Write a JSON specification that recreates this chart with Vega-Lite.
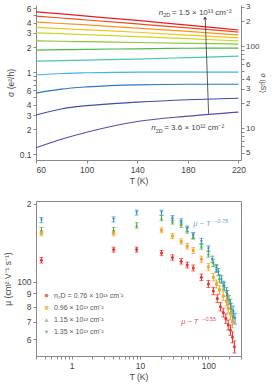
{
  "$schema": "https://vega.github.io/schema/vega-lite/v6.json",
  "padding": {"left": 3, "top": 2, "right": 0, "bottom": 0},
  "spacing": 14,
  "resolve": {"scale": {"color": "independent", "shape": "independent"}, "legend": {"color": "independent", "shape": "independent"}},
  "config": {
    "font": "Liberation Sans",
    "view": {"stroke": null},
    "axis": {"labelFontSize": 8.5, "titleFontSize": 8.5, "labelColor": "#444", "titleColor": "#444", "domainColor": "#888", "tickColor": "#888", "grid": false, "tickSize": 3, "titleFontWeight": "normal", "labelPadding": 2}
  },
  "datasets": {
    "sigma": [
      {"line": 1, "T": 60, "sigma": 5.4}, {"line": 1, "T": 80, "sigma": 5.1}, {"line": 1, "T": 100, "sigma": 4.8}, {"line": 1, "T": 140, "sigma": 4.25}, {"line": 1, "T": 180, "sigma": 3.72}, {"line": 1, "T": 220, "sigma": 3.25},
      {"line": 2, "T": 60, "sigma": 4.8}, {"line": 2, "T": 80, "sigma": 4.55}, {"line": 2, "T": 100, "sigma": 4.3}, {"line": 2, "T": 140, "sigma": 3.85}, {"line": 2, "T": 180, "sigma": 3.45}, {"line": 2, "T": 220, "sigma": 3.07},
      {"line": 3, "T": 60, "sigma": 4.07}, {"line": 3, "T": 80, "sigma": 3.9}, {"line": 3, "T": 100, "sigma": 3.75}, {"line": 3, "T": 140, "sigma": 3.42}, {"line": 3, "T": 180, "sigma": 3.12}, {"line": 3, "T": 220, "sigma": 2.83},
      {"line": 4, "T": 60, "sigma": 3.5}, {"line": 4, "T": 80, "sigma": 3.38}, {"line": 4, "T": 100, "sigma": 3.27}, {"line": 4, "T": 140, "sigma": 3.05}, {"line": 4, "T": 180, "sigma": 2.82}, {"line": 4, "T": 220, "sigma": 2.6},
      {"line": 5, "T": 60, "sigma": 3.0}, {"line": 5, "T": 80, "sigma": 2.93}, {"line": 5, "T": 100, "sigma": 2.85}, {"line": 5, "T": 140, "sigma": 2.7}, {"line": 5, "T": 180, "sigma": 2.55}, {"line": 5, "T": 220, "sigma": 2.39},
      {"line": 6, "T": 60, "sigma": 2.39}, {"line": 6, "T": 80, "sigma": 2.37}, {"line": 6, "T": 100, "sigma": 2.34}, {"line": 6, "T": 140, "sigma": 2.29}, {"line": 6, "T": 180, "sigma": 2.24}, {"line": 6, "T": 220, "sigma": 2.19},
      {"line": 7, "T": 60, "sigma": 1.85}, {"line": 7, "T": 80, "sigma": 1.87}, {"line": 7, "T": 100, "sigma": 1.89}, {"line": 7, "T": 140, "sigma": 1.92}, {"line": 7, "T": 180, "sigma": 1.95}, {"line": 7, "T": 220, "sigma": 1.96},
      {"line": 8, "T": 60, "sigma": 1.36}, {"line": 8, "T": 80, "sigma": 1.38}, {"line": 8, "T": 100, "sigma": 1.4}, {"line": 8, "T": 140, "sigma": 1.44}, {"line": 8, "T": 180, "sigma": 1.5}, {"line": 8, "T": 220, "sigma": 1.56},
      {"line": 9, "T": 60, "sigma": 0.92}, {"line": 9, "T": 80, "sigma": 0.96}, {"line": 9, "T": 100, "sigma": 0.98}, {"line": 9, "T": 140, "sigma": 1.0}, {"line": 9, "T": 180, "sigma": 1.0}, {"line": 9, "T": 220, "sigma": 1.0},
      {"line": 10, "T": 60, "sigma": 0.555}, {"line": 10, "T": 80, "sigma": 0.62}, {"line": 10, "T": 100, "sigma": 0.66}, {"line": 10, "T": 140, "sigma": 0.7}, {"line": 10, "T": 180, "sigma": 0.71}, {"line": 10, "T": 220, "sigma": 0.71},
      {"line": 11, "T": 60, "sigma": 0.3}, {"line": 11, "T": 80, "sigma": 0.355}, {"line": 11, "T": 100, "sigma": 0.39}, {"line": 11, "T": 140, "sigma": 0.43}, {"line": 11, "T": 180, "sigma": 0.46}, {"line": 11, "T": 220, "sigma": 0.48},
      {"line": 12, "T": 60, "sigma": 0.12}, {"line": 12, "T": 80, "sigma": 0.152}, {"line": 12, "T": 100, "sigma": 0.185}, {"line": 12, "T": 140, "sigma": 0.25}, {"line": 12, "T": 180, "sigma": 0.29}, {"line": 12, "T": 220, "sigma": 0.325}
    ],
    "topnotes": [
      {"T": 157, "s": 5.25, "rest": "= 1.5 × 10¹³ cm⁻²"},
      {"T": 151, "s": 0.207, "rest": "= 3.6 × 10¹² cm⁻²"}
    ],
    "mob": [
      {"n": "n₂D = 0.76 × 10¹³ cm⁻²", "T": 0.36, "mu": 121, "err": 3},
      {"n": "n₂D = 0.76 × 10¹³ cm⁻²", "T": 4.1, "mu": 133, "err": 3},
      {"n": "n₂D = 0.76 × 10¹³ cm⁻²", "T": 8.9, "mu": 133, "err": 3},
      {"n": "n₂D = 0.76 × 10¹³ cm⁻²", "T": 20.6, "mu": 129, "err": 3},
      {"n": "n₂D = 0.76 × 10¹³ cm⁻²", "T": 29.8, "mu": 124, "err": 3},
      {"n": "n₂D = 0.76 × 10¹³ cm⁻²", "T": 40, "mu": 120, "err": 3},
      {"n": "n₂D = 0.76 × 10¹³ cm⁻²", "T": 49, "mu": 116, "err": 3},
      {"n": "n₂D = 0.76 × 10¹³ cm⁻²", "T": 60, "mu": 113, "err": 3},
      {"n": "n₂D = 0.76 × 10¹³ cm⁻²", "T": 79, "mu": 104, "err": 3},
      {"n": "n₂D = 0.76 × 10¹³ cm⁻²", "T": 100, "mu": 98, "err": 3},
      {"n": "n₂D = 0.76 × 10¹³ cm⁻²", "T": 118, "mu": 92, "err": 3},
      {"n": "n₂D = 0.76 × 10¹³ cm⁻²", "T": 135, "mu": 86, "err": 3},
      {"n": "n₂D = 0.76 × 10¹³ cm⁻²", "T": 150, "mu": 80, "err": 3},
      {"n": "n₂D = 0.76 × 10¹³ cm⁻²", "T": 165, "mu": 76, "err": 3},
      {"n": "n₂D = 0.76 × 10¹³ cm⁻²", "T": 180, "mu": 72, "err": 3},
      {"n": "n₂D = 0.76 × 10¹³ cm⁻²", "T": 195, "mu": 68, "err": 3},
      {"n": "n₂D = 0.76 × 10¹³ cm⁻²", "T": 210, "mu": 65, "err": 3},
      {"n": "n₂D = 0.76 × 10¹³ cm⁻²", "T": 225, "mu": 61, "err": 3},
      {"n": "n₂D = 0.76 × 10¹³ cm⁻²", "T": 240, "mu": 56, "err": 3},
      {"n": "0.96 × 10¹³ cm⁻²", "T": 0.36, "mu": 154, "err": 3.5},
      {"n": "0.96 × 10¹³ cm⁻²", "T": 4.1, "mu": 154, "err": 3.5},
      {"n": "0.96 × 10¹³ cm⁻²", "T": 20.6, "mu": 158, "err": 3.5},
      {"n": "0.96 × 10¹³ cm⁻²", "T": 29.8, "mu": 150, "err": 3.5},
      {"n": "0.96 × 10¹³ cm⁻²", "T": 40, "mu": 143, "err": 3.5},
      {"n": "0.96 × 10¹³ cm⁻²", "T": 49, "mu": 137, "err": 3.5},
      {"n": "0.96 × 10¹³ cm⁻²", "T": 60, "mu": 132, "err": 3.5},
      {"n": "0.96 × 10¹³ cm⁻²", "T": 79, "mu": 122, "err": 3.5},
      {"n": "0.96 × 10¹³ cm⁻²", "T": 100, "mu": 114, "err": 3.5},
      {"n": "0.96 × 10¹³ cm⁻²", "T": 118, "mu": 104, "err": 3.5},
      {"n": "0.96 × 10¹³ cm⁻²", "T": 131, "mu": 98, "err": 3.5},
      {"n": "0.96 × 10¹³ cm⁻²", "T": 145, "mu": 93, "err": 3.5},
      {"n": "0.96 × 10¹³ cm⁻²", "T": 165, "mu": 88, "err": 3.5},
      {"n": "0.96 × 10¹³ cm⁻²", "T": 184, "mu": 84, "err": 3.5},
      {"n": "0.96 × 10¹³ cm⁻²", "T": 195, "mu": 79, "err": 3.5},
      {"n": "0.96 × 10¹³ cm⁻²", "T": 210, "mu": 75, "err": 3.5},
      {"n": "0.96 × 10¹³ cm⁻²", "T": 225, "mu": 70, "err": 3.5},
      {"n": "1.15 × 10¹³ cm⁻²", "T": 0.36, "mu": 158, "err": 4},
      {"n": "1.15 × 10¹³ cm⁻²", "T": 4.1, "mu": 158, "err": 4},
      {"n": "1.15 × 10¹³ cm⁻²", "T": 8.9, "mu": 165, "err": 4},
      {"n": "1.15 × 10¹³ cm⁻²", "T": 20.6, "mu": 176, "err": 4},
      {"n": "1.15 × 10¹³ cm⁻²", "T": 29.8, "mu": 171, "err": 4},
      {"n": "1.15 × 10¹³ cm⁻²", "T": 40, "mu": 166, "err": 4},
      {"n": "1.15 × 10¹³ cm⁻²", "T": 49, "mu": 158, "err": 4},
      {"n": "1.15 × 10¹³ cm⁻²", "T": 60, "mu": 150, "err": 4},
      {"n": "1.15 × 10¹³ cm⁻²", "T": 79, "mu": 137, "err": 3.5},
      {"n": "1.15 × 10¹³ cm⁻²", "T": 100, "mu": 128, "err": 3.5},
      {"n": "1.15 × 10¹³ cm⁻²", "T": 118, "mu": 118, "err": 3.5},
      {"n": "1.15 × 10¹³ cm⁻²", "T": 131, "mu": 112, "err": 3.5},
      {"n": "1.15 × 10¹³ cm⁻²", "T": 145, "mu": 103, "err": 3.5},
      {"n": "1.15 × 10¹³ cm⁻²", "T": 165, "mu": 97, "err": 3.5},
      {"n": "1.15 × 10¹³ cm⁻²", "T": 184, "mu": 91.5, "err": 3.5},
      {"n": "1.15 × 10¹³ cm⁻²", "T": 200, "mu": 85, "err": 3.5},
      {"n": "1.15 × 10¹³ cm⁻²", "T": 215, "mu": 79, "err": 3.5},
      {"n": "1.15 × 10¹³ cm⁻²", "T": 230, "mu": 73, "err": 3.5},
      {"n": "1.35 × 10¹³ cm⁻²", "T": 0.36, "mu": 173, "err": 4},
      {"n": "1.35 × 10¹³ cm⁻²", "T": 4.1, "mu": 174, "err": 4},
      {"n": "1.35 × 10¹³ cm⁻²", "T": 8.9, "mu": 185, "err": 4},
      {"n": "1.35 × 10¹³ cm⁻²", "T": 20.6, "mu": 185, "err": 4},
      {"n": "1.35 × 10¹³ cm⁻²", "T": 29.8, "mu": 176, "err": 4},
      {"n": "1.35 × 10¹³ cm⁻²", "T": 40, "mu": 171, "err": 4},
      {"n": "1.35 × 10¹³ cm⁻²", "T": 49, "mu": 160, "err": 4},
      {"n": "1.35 × 10¹³ cm⁻²", "T": 60, "mu": 151, "err": 4},
      {"n": "1.35 × 10¹³ cm⁻²", "T": 79, "mu": 143, "err": 4},
      {"n": "1.35 × 10¹³ cm⁻²", "T": 100, "mu": 134, "err": 3.5},
      {"n": "1.35 × 10¹³ cm⁻²", "T": 114, "mu": 122, "err": 3.5},
      {"n": "1.35 × 10¹³ cm⁻²", "T": 131, "mu": 113, "err": 3.5},
      {"n": "1.35 × 10¹³ cm⁻²", "T": 140, "mu": 109, "err": 3.5},
      {"n": "1.35 × 10¹³ cm⁻²", "T": 155, "mu": 102, "err": 3.5},
      {"n": "1.35 × 10¹³ cm⁻²", "T": 171, "mu": 96, "err": 3.5},
      {"n": "1.35 × 10¹³ cm⁻²", "T": 190, "mu": 89, "err": 3.5},
      {"n": "1.35 × 10¹³ cm⁻²", "T": 210, "mu": 82, "err": 3.5},
      {"n": "1.35 × 10¹³ cm⁻²", "T": 230, "mu": 77, "err": 3.5},
      {"n": "1.35 × 10¹³ cm⁻²", "T": 245, "mu": 72, "err": 3.5}
    ]
  },
  "vconcat": [
    {
      "width": 205,
      "height": 155,
      "layer": [
        {
          "layer": [
            {
              "data": {"name": "sigma"},
              "mark": {"type": "line", "strokeWidth": 1.2, "interpolate": "monotone"},
              "encoding": {
                "x": {"field": "T", "type": "quantitative", "scale": {"domain": [60, 222], "nice": false, "zero": false}, "axis": {"values": [60, 100, 140, 180, 220], "title": "T (K)", "titlePadding": 3}},
                "y": {"field": "sigma", "type": "quantitative", "scale": {"type": "log", "domain": [0.085, 6.55], "nice": false}, "axis": {"values": [0.1, 0.2, 0.3, 0.4, 0.5, 0.6, 0.7, 0.8, 0.9, 1, 2, 3, 4, 5, 6], "labelExpr": "datum.value == 0.1 ? '0.1' : datum.value == 1 ? '1' : (datum.value > 0.65 && datum.value < 0.95) ? '' : datum.value < 1 ? format(datum.value * 10, 'd') : format(datum.value, 'd')", "title": "σ (e²/h)", "titlePadding": 4}},
                "color": {"field": "line", "type": "ordinal", "scale": {"domain": [1, 2, 3, 4, 5, 6, 7, 8, 9, 10, 11, 12], "range": ["#e31e24", "#ef4e23", "#f7941d", "#f5c219", "#c4d92e", "#8cc63f", "#4db848", "#4cc3b5", "#3fb4e5", "#2a78c2", "#3b4fa8", "#5b4aa8"]}, "legend": null}
              }
            },
            {
              "data": {"values": [{"T": 196.4, "s": 0.31, "T2": 193.8, "s2": 4.3}]},
              "mark": {"type": "rule", "color": "#333", "strokeWidth": 0.8},
              "encoding": {"x": {"field": "T", "type": "quantitative"}, "y": {"field": "s", "type": "quantitative"}, "x2": {"field": "T2"}, "y2": {"field": "s2"}}
            },
            {
              "data": {"values": [{"T": 193.6, "s": 4.55}]},
              "mark": {"type": "point", "shape": "triangle-up", "filled": true, "color": "#333", "size": 14, "opacity": 1},
              "encoding": {"x": {"field": "T", "type": "quantitative"}, "y": {"field": "s", "type": "quantitative"}}
            },
            {
              "data": {"name": "topnotes"},
              "mark": {"type": "text", "text": "n", "fontStyle": "italic", "fontSize": 8, "align": "left", "baseline": "middle", "color": "#444"},
              "encoding": {"x": {"field": "T", "type": "quantitative"}, "y": {"field": "s", "type": "quantitative"}}
            },
            {
              "data": {"name": "topnotes"},
              "mark": {"type": "text", "text": "2D", "fontSize": 5.5, "align": "left", "baseline": "middle", "dx": 4.5, "dy": 2.5, "color": "#444"},
              "encoding": {"x": {"field": "T", "type": "quantitative"}, "y": {"field": "s", "type": "quantitative"}}
            },
            {
              "data": {"name": "topnotes"},
              "mark": {"type": "text", "fontSize": 8, "align": "left", "baseline": "middle", "dx": 13, "color": "#444"},
              "encoding": {"x": {"field": "T", "type": "quantitative"}, "y": {"field": "s", "type": "quantitative"}, "text": {"field": "rest"}}
            }
          ]
        },
        {
          "data": {"values": [{"mu": 4.1}, {"mu": 316}]},
          "mark": {"type": "point", "opacity": 0},
          "encoding": {
            "y": {"field": "mu", "type": "quantitative", "scale": {"type": "log", "domain": [4.1, 316], "nice": false}, "axis": {"orient": "right", "values": [4, 5, 6, 7, 8, 9, 10, 20, 30, 40, 50, 60, 70, 80, 90, 100, 200, 300], "labelExpr": "datum.value == 10 ? '10' : datum.value == 100 ? '100' : indexof([7, 8, 9, 70, 80, 90], datum.value) >= 0 ? '' : format(datum.value / pow(10, floor(log(datum.value) / LN10 + 0.0001)), 'd')", "labelFontSize": 8, "labelPadding": 1.5, "title": "σ (μS)", "titleFontSize": 7, "titlePadding": 1}}
          }
        }
      ],
      "resolve": {"scale": {"y": "independent"}}
    },
    {
      "width": 205,
      "height": 155,
      "view": {"stroke": "#888"},
      "layer": [
        {
          "data": {"name": "mob"},
          "mark": {"type": "errorbar", "ticks": {"size": 4}, "thickness": 1},
          "encoding": {
            "x": {"field": "T", "type": "quantitative", "scale": {"type": "log", "domain": [0.3, 300], "nice": false}, "axis": {"values": [0.3, 0.4, 0.5, 0.6, 0.7, 0.8, 0.9, 1, 2, 3, 4, 5, 6, 7, 8, 9, 10, 20, 30, 40, 50, 60, 70, 80, 90, 100, 200, 300], "labelExpr": "datum.value == 1 ? '1' : datum.value == 10 ? '10' : datum.value == 100 ? '100' : ''", "title": "T (K)", "titlePadding": 3}},
            "y": {"field": "mu", "type": "quantitative", "scale": {"type": "log", "domain": [51.6, 205], "nice": false}, "axis": {"values": [60, 70, 80, 90, 100, 200], "labelExpr": "datum.value == 100 ? '100' : datum.value == 200 ? '2' : format(datum.value / 10, 'd')", "title": "μ (cm² V⁻¹ s⁻¹)", "titlePadding": 4}},
            "yError": {"field": "err"},
            "color": {"field": "n", "type": "nominal", "scale": {"domain": ["n₂D = 0.76 × 10¹³ cm⁻²", "0.96 × 10¹³ cm⁻²", "1.15 × 10¹³ cm⁻²", "1.35 × 10¹³ cm⁻²"], "range": ["#e5332e", "#f5a530", "#4fae45", "#3591d0"]}, "legend": {"orient": "none", "legendX": 7, "legendY": 91, "title": null, "labelFontSize": 7, "labelColor": "#555", "symbolSize": 14, "rowPadding": 4.3, "labelOffset": 4, "symbolStrokeWidth": 0}}
          }
        },
        {
          "data": {"name": "mob"},
          "mark": {"type": "point", "filled": true, "size": 9, "opacity": 1},
          "encoding": {
            "x": {"field": "T", "type": "quantitative"},
            "y": {"field": "mu", "type": "quantitative"},
            "color": {"field": "n", "type": "nominal", "scale": {"domain": ["n₂D = 0.76 × 10¹³ cm⁻²", "0.96 × 10¹³ cm⁻²", "1.15 × 10¹³ cm⁻²", "1.35 × 10¹³ cm⁻²"], "range": ["#e5332e", "#f5a530", "#4fae45", "#3591d0"]}, "legend": {"orient": "none", "legendX": 7, "legendY": 91, "title": null, "labelFontSize": 7, "labelColor": "#555", "symbolSize": 14, "rowPadding": 4.3, "labelOffset": 4, "symbolStrokeWidth": 0}},
            "shape": {"field": "n", "type": "nominal", "scale": {"domain": ["n₂D = 0.76 × 10¹³ cm⁻²", "0.96 × 10¹³ cm⁻²", "1.15 × 10¹³ cm⁻²", "1.35 × 10¹³ cm⁻²"], "range": ["circle", "square", "triangle-up", "triangle-down"]}, "legend": {"orient": "none", "legendX": 7, "legendY": 91, "title": null, "labelFontSize": 7, "labelColor": "#555", "symbolSize": 14, "rowPadding": 4.3, "labelOffset": 4, "symbolStrokeWidth": 0}}
          }
        },
        {
          "data": {"values": [{"T": 60, "mu": 167}]},
          "mark": {"type": "text", "text": "μ ~ T", "fontStyle": "italic", "fontSize": 7.5, "align": "left", "baseline": "middle", "color": "#6aa9dc"},
          "encoding": {"x": {"field": "T", "type": "quantitative"}, "y": {"field": "mu", "type": "quantitative"}}
        },
        {
          "data": {"values": [{"T": 60, "mu": 167}]},
          "mark": {"type": "text", "text": "−0.78", "fontSize": 5.5, "align": "left", "baseline": "middle", "dx": 21, "dy": -3, "color": "#6aa9dc"},
          "encoding": {"x": {"field": "T", "type": "quantitative"}, "y": {"field": "mu", "type": "quantitative"}}
        },
        {
          "data": {"values": [{"T": 40, "mu": 70}]},
          "mark": {"type": "text", "text": "μ ~ T", "fontStyle": "italic", "fontSize": 7.5, "align": "left", "baseline": "middle", "color": "#e8505b"},
          "encoding": {"x": {"field": "T", "type": "quantitative"}, "y": {"field": "mu", "type": "quantitative"}}
        },
        {
          "data": {"values": [{"T": 40, "mu": 70}]},
          "mark": {"type": "text", "text": "−0.55", "fontSize": 5.5, "align": "left", "baseline": "middle", "dx": 21, "dy": -3, "color": "#e8505b"},
          "encoding": {"x": {"field": "T", "type": "quantitative"}, "y": {"field": "mu", "type": "quantitative"}}
        }
      ]
    }
  ]
}
